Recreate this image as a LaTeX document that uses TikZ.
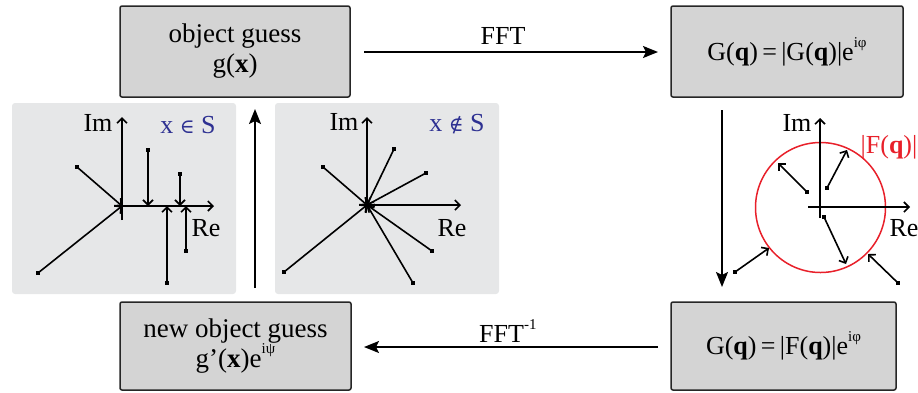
\documentclass[tikz,border=0pt]{standalone}
\usepackage{fontspec}
\setmainfont{Liberation Serif}
\newfontfamily\symfont{DejaVu Serif}
\usetikzlibrary{arrows.meta}
\definecolor{boxgray}{HTML}{D4D4D4}
\definecolor{panelgray}{HTML}{E6E7E8}
\definecolor{labblue}{HTML}{2E3192}
\definecolor{labred}{HTML}{E8202A}
\newcommand{\supx}[1]{\raisebox{0.5em}{\fontsize{15}{15}\selectfont #1}}
\begin{document}
\begin{tikzpicture}[x=1pt,y=-1pt,
  boxnode/.style={draw=black!85,line width=1.5pt,fill=boxgray,rounded corners=2pt,
    align=center,inner sep=0pt,font=\fontsize{27}{30}\selectfont},
  mainarrow/.style={line width=1.7pt,-{Stealth[length=15pt,width=12pt,inset=3pt]}},
  vec/.style={line width=1.6pt,-{Straight Barb[length=5pt,width=10pt,line width=1.6pt]}},
  axis/.style={line width=1.6pt,-{Straight Barb[length=5pt,width=10pt,line width=1.6pt]}},
  endmark/.style={fill=black,inner sep=0pt,minimum size=4.5pt},
  lab/.style={font=\fontsize{26}{28}\selectfont,inner sep=0pt},
  panel/.style={fill=panelgray,rounded corners=3pt}]
\useasboundingbox (0,0) rectangle (918,392);
% boxes
\node[boxnode,minimum width=230pt,minimum height=91pt] (b1) at (235,51.5) {object guess\\g(\textbf{x})};
\node[boxnode,minimum width=232pt,minimum height=91pt,font=\fontsize{26}{28}\selectfont] (b2) at (787,51.5) {G(\textbf{q})\,=\,|G(\textbf{q})|e\supx{iφ}};
\node[boxnode,minimum width=231pt,minimum height=88pt] (b3) at (235.5,346) {new object guess\\g’(\textbf{x})e\supx{iψ}};
\node[boxnode,minimum width=225pt,minimum height=88pt,font=\fontsize{26}{28}\selectfont] (b4) at (783.5,346) {G(\textbf{q})\,=\,|F(\textbf{q})|e\supx{iφ}};
% main arrows
\coordinate (f1) at (364,52); \coordinate (f2) at (658,52);
\coordinate (g1) at (658,347); \coordinate (g2) at (364,347);
\coordinate (u1) at (255,288); \coordinate (u2) at (255,109);
\coordinate (d1) at (722,110); \coordinate (d2) at (722,287);
\draw[mainarrow] (f1) -- (f2);
\draw[mainarrow] (g1) -- (g2);
\node[lab] (fft) at (503,36) {FFT};
\node[lab,anchor=west] (ifft) at (479,331) {FFT\supx{-1}};
\draw[mainarrow] (u1) -- (u2);
\draw[mainarrow] (d1) -- (d2);
% panels
\fill[panel] (12,103) rectangle (236,294);
\fill[panel] (275,103) rectangle (499,294);
% left panel
\coordinate (o1) at (122,206);
\draw[axis] (122,220) -- (122,117);
\draw[axis] (o1) -- (214,206);
\node[lab] (im1) at (98,123) {Im};
\node[lab,text=labblue] (s1) at (188,125) {x {\symfont\fontsize{20}{22}\selectfont ∈} S};
\node[lab] (re1) at (206,228) {Re};
\foreach \a/\b/\c/\d in {77/167/122/206, 38/273/122/206, 148/150/148/206, 180/174/180/206, 167/283/167/206, 186/251/186/206}{
  \node[endmark] (m) at (\a,\b) {};
  \draw[vec] (m.center) -- (\c,\d);
}
% right panel
\coordinate (o2) at (367,205);
\draw[axis] (o2) -- (367,117);
\draw[axis] (o2) -- (461,205);
\node[lab] (im2) at (344,122) {Im};
\node[lab,text=labblue] (s2) at (457,124) {x {\symfont\fontsize{20}{22}\selectfont ∉} S};
\node[lab] (re2) at (452,228) {Re};
\foreach \a/\b in {323/167, 394/149, 426/173, 432/251, 413/283, 284/272}{
  \node[endmark] (m) at (\a,\b) {};
  \draw[vec] (m.center) -- (o2);
}
% right: constraint circle
\draw[labred,line width=1.5pt] (820.5,207.5) circle[radius=65];
\draw[axis] (820,218) -- (820,118);
\draw[axis] (808,207) -- (910,207);
\node[lab] (im3) at (797,123) {Im};
\node[lab,text=labred] (fq) at (889,147) {|F(\textbf{q})|};
\node[lab] (re3) at (904,228) {Re};
\foreach \a/\b/\c/\d in {807/192/778/163, 827/188/847/150, 824/217/846/264, 735/272/769/248, 898/283/868/254}{
  \node[endmark] (m) at (\a,\b) {};
  \draw[vec] (m.center) -- (\c,\d);
}
\end{tikzpicture}
\end{document}
